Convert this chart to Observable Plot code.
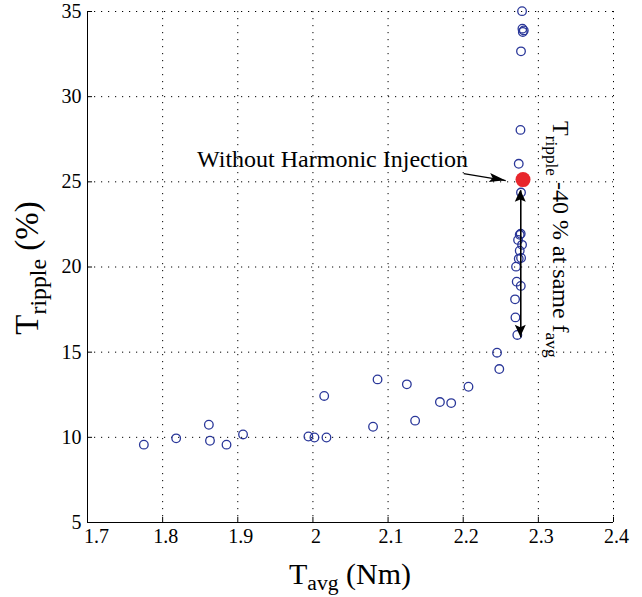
<!DOCTYPE html>
<html><head><meta charset="utf-8">
<script src="https://cdn.jsdelivr.net/npm/d3@7"></script>
<script src="https://cdn.jsdelivr.net/npm/@observablehq/plot@0.6"></script>
<style>body{margin:0;background:#fff} svg text{font-family:"Liberation Serif","Times New Roman",serif;}</style>
</head><body><div id="chart"></div>
<script>
// Scatter: average torque (Nm) vs torque ripple (%)
const tAvg = [1.775,1.818,1.8615,1.863,1.885,1.907,1.994,2.002,2.018,2.015,2.080,2.086,2.125,2.136,2.169,2.184,2.207,2.245,2.248,2.272,
  2.2695,2.269,2.2766,2.2712,2.2703,2.2739,2.2770,2.2752,2.2783,2.2730,2.2752,2.2765,2.2769,2.2739,2.2762,2.2769,2.2788,2.2806,2.2793,2.2783];
const tRipple = [9.57,9.94,10.74,9.80,9.57,10.17,10.05,9.99,9.99,12.43,10.62,13.40,13.11,10.98,12.07,12.01,12.97,14.97,14.01,16.01,
  17.04,18.10,18.89,19.14,20.02,20.48,20.53,20.96,21.30,21.59,21.89,21.95,24.37,26.06,28.05,32.66,33.99,33.89,33.80,35.02];
// reference point: without harmonic injection
const refAvg = [2.2796];
const refRipple = [25.13];

const xTicks = [1.7,1.8,1.9,2.0,2.1,2.2,2.3,2.4];
const xTickLabels = ["1.7","1.8","1.9","2","2.1","2.2","2.3","2.4"];
const yTicks = [5,10,15,20,25,30,35];
const yTickLabels = ["5","10","15","20","25","30","35"];

// arrows
const calloutX1 = [2.2007], calloutY1 = [25.48], calloutX2 = [2.2566], calloutY2 = [25.07];
const spanX = [2.2766], spanY1 = [15.87], spanY2 = [24.5];

// texts
const xLabelText = ["T","avg"," (Nm)"], xLabelSub = [0,1,0];
const yLabelText = ["T","ripple"," (%)"], yLabelSub = [0,1,0];
const calloutText = ["Without Harmonic Injection"], calloutSub = [0];
const calloutAt = [1.8465, 25.86];
const spanText = ["T","ripple"," -40 % at same f","avg"], spanSub = [0,1,0,1];
const spanAt = [2.3205, 28.54];

const pts = tAvg.map((x,i)=>({x, y:tRipple[i]}));
const ref = refAvg.map((x,i)=>({x, y:refRipple[i]}));
const callout = calloutX1.map((x,i)=>({x1:x, y1:calloutY1[i], x2:calloutX2[i], y2:calloutY2[i]}));
const span = spanX.map((x,i)=>({x, y1:spanY1[i], y2:spanY2[i]}));

const FONT = "Liberation Serif, Times New Roman, serif";
const grid = {stroke:"#000", strokeOpacity:1, strokeWidth:1, strokeDasharray:"1.2,5.8"};
const fmtX = d=>xTickLabels[xTicks.indexOf(d)];

const plot = Plot.plot({
  width: 642, height: 597,
  marginLeft: 87, marginRight: 29, marginTop: 11, marginBottom: 75,
  x: {domain:[1.7,2.4]},
  y: {domain:[5,35]},
  style: {fontFamily: FONT, fontSize:"20px", background:"#fff", color:"#000", overflow:"visible"},
  marks: [
    Plot.gridX(xTicks.slice(1), grid),
    Plot.gridY(yTicks.slice(1), grid),
    Plot.ruleX(xTicks, {x:d=>d, y1:5, y2:5.3, stroke:"#000"}),
    Plot.ruleY(yTicks, {y:d=>d, x1:1.7, x2:1.7067, stroke:"#000"}),
    Plot.ruleX([1.7], {stroke:"#000"}),
    Plot.ruleY([5], {stroke:"#000"}),
    Plot.axisX({ticks:xTicks.slice(1), tickSize:0, tickPadding:6, label:null, dx:3, fontFamily:FONT, fontSize:20, tickFormat:fmtX}),
    Plot.axisX({ticks:xTicks.slice(0,1), tickSize:0, tickPadding:6, label:null, dx:9, fontFamily:FONT, fontSize:20, tickFormat:fmtX}),
    Plot.axisY({ticks:yTicks, tickSize:0, tickPadding:6, label:null, fontFamily:FONT, fontSize:20, tickFormat:d=>yTickLabels[yTicks.indexOf(d)]}),
    Plot.dot(pts, {x:"x", y:"y", r:4.3, stroke:"#2a3799", strokeWidth:1.3, fill:"none"}),
    Plot.link(callout, {x1:"x1", y1:"y1", x2:"x2", y2:"y2", stroke:"#000", strokeWidth:1.2}),
    Plot.link(span, {x1:"x", x2:"x", y1:"y1", y2:"y2", stroke:"#000", strokeWidth:1.6}),
    Plot.dot(ref, {x:"x", y:"y", r:7.5, fill:"#e8262c", stroke:"none"})
  ]
});
document.getElementById("chart").appendChild(plot);

const svg = d3.select(plot);
const sx = plot.scale("x"), sy = plot.scale("y");

// arrowheads placed from the scales
function head(xFrom, yFrom, xTip, yTip, len, halfW){
  const x0 = sx.apply(xFrom), y0 = sy.apply(yFrom), x1 = sx.apply(xTip), y1 = sy.apply(yTip);
  const dx = x1-x0, dy = y1-y0, n = Math.hypot(dx,dy), ux = dx/n, uy = dy/n, px = -uy, py = ux;
  const bx = x1-ux*len, by = y1-uy*len, nx = x1-ux*len*0.8, ny = y1-uy*len*0.8;
  svg.append("path").attr("fill","#000").attr("stroke","none")
    .attr("d", `M${x1},${y1}L${bx+px*halfW},${by+py*halfW}L${nx},${ny}L${bx-px*halfW},${by-py*halfW}Z`);
}
callout.forEach(d=>head(d.x1,d.y1,d.x2,d.y2,16,4.5));
span.forEach(d=>{ head(d.x,d.y1,d.x,d.y2,12,5.5); head(d.x,d.y2,d.x,d.y1,12,5.5); });
// keep red dot above the heads
svg.node().appendChild(svg.selectAll("g[aria-label=dot]").nodes().slice(-1)[0]);

function rich(parts, subs, x, y, rot, size, anchor, shift){
  const t = svg.append("text").attr("transform", `translate(${x},${y}) rotate(${rot})`)
    .attr("text-anchor", anchor).attr("fill", "#000")
    .style("font-family", FONT).style("font-size", size+"px").style("white-space","pre");
  let cur = 0;
  parts.forEach((s,i)=>{
    const dy = subs[i] ? size*shift : 0;
    t.append("tspan").attr("dy", dy-cur).style("font-size", (subs[i] ? size*0.72 : size)+"px").text(s);
    cur = dy;
  });
}
rich(xLabelText, xLabelSub, 350, 584, 0, 30, "middle", 0.2);
rich(yLabelText, yLabelSub, 38, 268, -90, 33, "middle", 0.25);
rich(calloutText, calloutSub, sx.apply(calloutAt[0]), sy.apply(calloutAt[1]), 0, 24, "start", 0.3);
rich(spanText, spanSub, sx.apply(spanAt[0]), sy.apply(spanAt[1]), 90, 24, "start", 0.3);
</script></body></html>
